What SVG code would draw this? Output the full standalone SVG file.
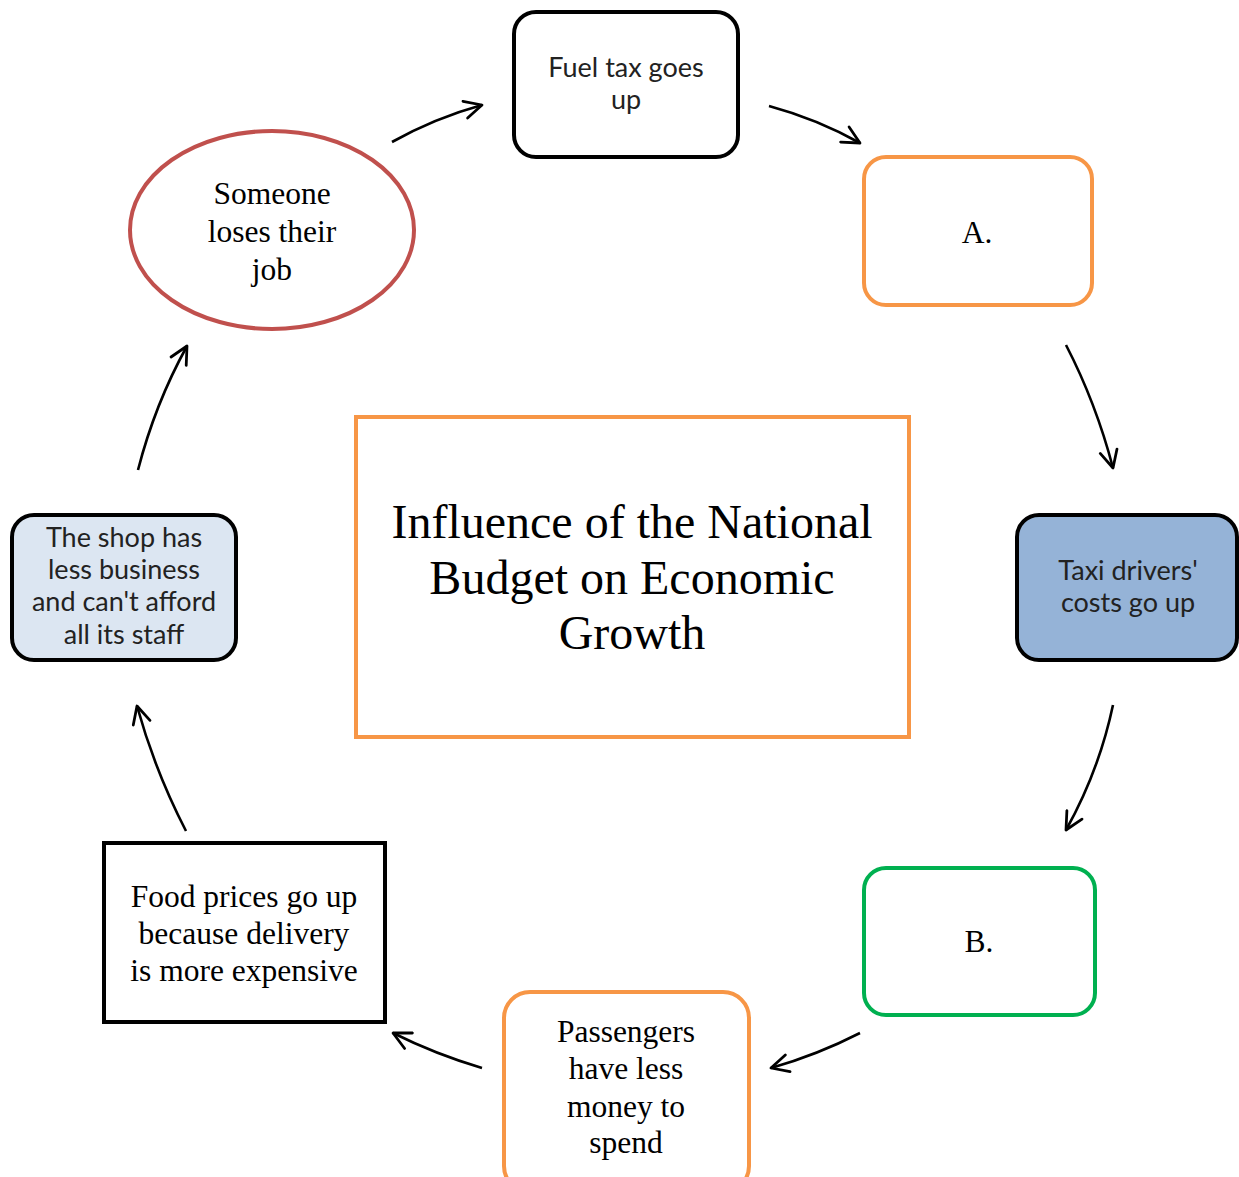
<svg xmlns="http://www.w3.org/2000/svg" width="1239" height="1177" viewBox="0 0 1239 1177">
<defs>
<style>
.sans{font-family:Lato,"Open Sans","Liberation Sans",sans-serif;font-size:27px;fill:#222;text-anchor:middle}
.serif{font-family:"Liberation Serif","Times New Roman",serif;font-size:31.5px;fill:#000;text-anchor:middle}
.conn path{fill:none;stroke:#000;stroke-width:2.6;marker-end:url(#ah)}
</style>
<marker id="ah" viewBox="0 0 12 12" refX="11" refY="6" markerWidth="8" markerHeight="8" markerUnits="strokeWidth" orient="auto">
<path d="M1,1 L11,6 L1,11" fill="none" stroke="#000" stroke-width="1.6" stroke-linecap="round" stroke-linejoin="round"/>
</marker>
</defs>
<rect width="1239" height="1177" fill="#fff"/>

<g id="center">
<rect x="356" y="417" width="553" height="320" fill="#fff" stroke="#F79646" stroke-width="4"/>
<text class="serif" style="font-size:48px" x="632" y="538">Influence of the National</text>
<text class="serif" style="font-size:48px" x="632" y="594">Budget on Economic</text>
<text class="serif" style="font-size:48px" x="632" y="649">Growth</text>
</g>

<g id="fuel">
<rect x="514" y="12" width="224" height="145" rx="22" fill="#fff" stroke="#000" stroke-width="4"/>
<text class="sans" x="626" y="77">Fuel tax goes</text>
<text class="sans" x="626" y="109">up</text>
</g>

<g id="nodeA">
<rect x="864" y="157" width="228" height="148" rx="22" fill="#fff" stroke="#F79646" stroke-width="4"/>
<text class="serif" x="977" y="243">A.</text>
</g>

<g id="taxi">
<rect x="1017" y="515" width="220" height="145" rx="22" fill="#95B3D7" stroke="#000" stroke-width="4"/>
<text class="sans" x="1128" y="580">Taxi drivers'</text>
<text class="sans" x="1128" y="612">costs go up</text>
</g>

<g id="nodeB">
<rect x="864" y="868" width="231" height="147" rx="22" fill="#fff" stroke="#00B050" stroke-width="4"/>
<text class="serif" x="979" y="952">B.</text>
</g>

<g id="passengers">
<rect x="504" y="992" width="245" height="200" rx="26" fill="#fff" stroke="#F79646" stroke-width="4"/>
<text class="serif" x="626" y="1042">Passengers</text>
<text class="serif" x="626" y="1079">have less</text>
<text class="serif" x="626" y="1117">money to</text>
<text class="serif" x="626" y="1153">spend</text>
</g>

<g id="food">
<rect x="104" y="843" width="281" height="179" fill="#fff" stroke="#000" stroke-width="4"/>
<text class="serif" x="244" y="907">Food prices go up</text>
<text class="serif" x="244" y="944">because delivery</text>
<text class="serif" x="244" y="981">is more expensive</text>
</g>

<g id="shop">
<rect x="12" y="515" width="224" height="145" rx="22" fill="#DCE6F2" stroke="#000" stroke-width="4"/>
<text class="sans" x="124" y="547">The shop has</text>
<text class="sans" x="124" y="579">less business</text>
<text class="sans" x="124" y="611">and can't afford</text>
<text class="sans" x="124" y="644">all its staff</text>
</g>

<g id="job">
<ellipse cx="272" cy="230" rx="142" ry="99" fill="#fff" stroke="#C0504D" stroke-width="4"/>
<text class="serif" x="272" y="204">Someone</text>
<text class="serif" x="272" y="242">loses their</text>
<text class="serif" x="272" y="280">job</text>
</g>

<g id="connectors" class="conn">
<path d="M392,142 Q435,118 482,105"/>
<path d="M769,106 Q817,119 860,143"/>
<path d="M1066,345 Q1096,403 1113,468"/>
<path d="M1113,705 Q1099,771 1066,830"/>
<path d="M860,1033 Q817,1055 771,1068"/>
<path d="M482,1068 Q435,1054 393,1033"/>
<path d="M186,831 Q155,771 137,706"/>
<path d="M138,470 Q155,404 187,346"/>
</g>
</svg>
